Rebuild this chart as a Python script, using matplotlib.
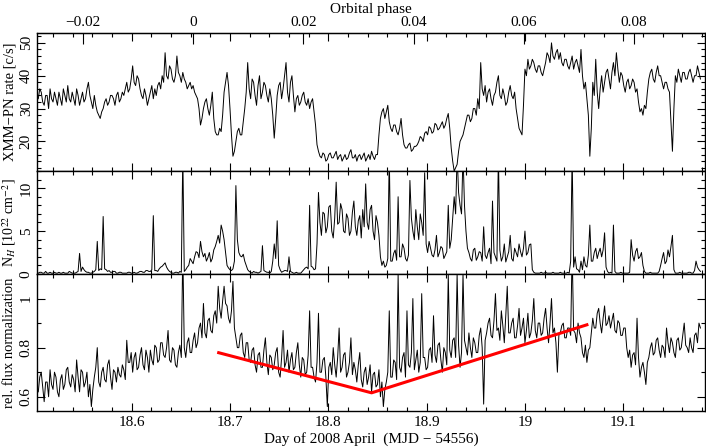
import numpy as np
import matplotlib
matplotlib.use("Agg")
import matplotlib.pyplot as plt
from matplotlib.ticker import MultipleLocator, FixedLocator, FuncFormatter

plt.rcParams['font.family'] = ['Liberation Serif', 'DejaVu Serif']
plt.rcParams['mathtext.fontset'] = 'stix'
plt.rcParams['font.size'] = 11

# time grid of the light curve (days of 2008 April)
t_start = 18.505
t_step = 0.0015
# orbital ephemeris used for the top axis
period = 5.6
phase_zero = 18.6627
phase_ticks = [-0.02, 0.0, 0.02, 0.04, 0.06, 0.08]

rate = [
    33, 36, 35, 32, 31, 34, 34, 30, 36, 33,
    32, 35, 33, 31, 35, 33, 31, 36, 34, 32,
    37, 33, 32, 35, 33, 31, 36, 34, 31, 33,
    35, 32, 33, 36, 38, 34, 32, 30, 34, 31,
    29, 28, 27, 29, 30, 32, 33, 31, 32, 34,
    34, 33, 31, 34, 35, 32, 33, 35, 34, 36,
    38, 35, 36, 39, 43, 38, 37, 40, 39, 36,
    34, 33, 36, 34, 31, 33, 35, 37, 33, 36,
    34, 37, 38, 36, 40, 38, 47, 40, 39, 43,
    42, 39, 38, 40, 46, 41, 40, 38, 41, 39,
    38, 36, 37, 38, 36, 37, 35, 34, 33, 30,
    25, 27, 30, 32, 33, 30, 28, 31, 35, 27,
    23, 22, 22, 24, 23, 28, 35, 38, 41, 37,
    30, 22, 15.5, 17, 20, 23, 24, 22, 22, 26,
    30, 35, 44, 36, 33, 39, 38, 34, 31, 37,
    40, 33, 35, 38, 37, 34, 32, 36, 33, 28,
    21, 27, 34, 37, 38, 33, 36, 40, 44, 35,
    32, 38, 40, 34, 29, 33, 34, 31, 32, 34,
    35, 32, 31, 33, 30, 32, 33, 29, 25, 19,
    17, 15.5, 15, 16.5, 16, 14, 14.5, 16, 16.5, 15,
    15, 16, 17, 14.5, 15.5, 16, 14, 15, 16, 14.5,
    15, 16.5, 17.5, 15, 15, 16, 14, 15.5, 16, 14.5,
    15.5, 16.5, 14, 15, 16, 14.5, 17, 15.5, 14.5, 16,
    16, 22, 27, 29, 30, 27, 29, 31, 26, 24,
    23, 25, 25, 23, 22, 24, 27, 22, 19, 18,
    18, 19, 19.5, 17, 17.5, 18.5, 18.5, 19, 20, 21.5,
    21, 20, 22.5, 23, 22, 24.5, 24, 22.5, 23, 25.5,
    25, 23.5, 24, 25, 26, 24, 25, 27, 28.5, 24,
    18, 14, 11, 12, 13, 17, 20, 21, 22, 24,
    26, 28, 28, 26, 27, 30, 30, 28, 33, 30,
    44, 36, 34, 37, 32, 35, 36, 33, 31, 34,
    35, 38, 40, 34, 33, 36, 34, 31, 32, 35,
    37, 34, 33, 35, 30, 27, 24, 23, 22, 31,
    42, 40, 45, 42, 43, 45, 44, 42, 41, 43,
    43, 41, 40, 42, 44, 47, 46, 44, 50, 46,
    45, 47, 48, 45, 47, 44, 43, 45, 45, 43,
    42, 44, 46, 42, 44, 45, 43, 41, 48, 40,
    36, 38, 33, 28, 15.5, 24, 38, 34, 45, 35,
    30, 36, 40, 35, 38, 41, 42, 39, 36, 41,
    44, 40, 47, 42, 38, 41, 40, 37, 35, 38,
    39, 36, 37, 39, 38, 35, 36, 32, 29, 30,
    28, 31, 30, 35, 39, 41, 42, 39, 38, 41,
    43, 40, 40, 38, 36, 38, 38, 36, 35, 26,
    17, 30, 40, 38, 42, 40, 38, 41, 41, 39,
    39, 41, 42, 40, 38, 40, 40, 43, 41, 39,
]

nh = [
    0.1, 0.2, 0.2, 0.1, 0.1, 0.3, 0.1, 0.1, 0.2, 0.1,
    0.1, 0.2, 0.1, 0.1, 0.2, 0.1, 0.1, 0.2, 0.1, 0.1,
    0.1, 0.3, 0.2, 0.1, 0.1, 0.1, 0.2, 0.3, 2.4, 0.3,
    0.8, 0.5, 0.3, 0.2, 0.2, 0.1, 0.1, 0.2, 0.3, 0.5,
    3.8, 0.4, 0.6, 0.5, 6.7, 0.6, 0.5, 0.3, 0.4, 0.2,
    0.2, 0.3, 0.3, 0.1, 0.1, 0.2, 0.2, 0.1, 0.1, 0.1,
    0.1, 0.2, 0.2, 0.1, 0.1, 0.2, 0.1, 0.1, 0.2, 0.3,
    0.3, 0.2, 0.2, 0.4, 0.4, 0.3, 0.3, 0.5, 6.8, 0.4,
    0.4, 0.3, 0.6, 0.8, 0.9, 1.1, 1.3, 0.8, 0.5, 0.3,
    0.2, 0.1, 0.1, 0.2, 0.2, 0.1, 0.3, 0.2, 14, 0.3,
    0.5, 0.8, 1.0, 1.8, 1.5, 1.2, 2.0, 2.6, 2.5, 1.9,
    3.8, 2.6, 2.0, 2.4, 1.5, 1.9, 2.5, 1.4, 1.8, 2.8,
    3.2, 3.8, 4.5, 3.6, 5.7, 5.0, 4.0, 2.5, 1.0, 0.7,
    0.5, 0.4, 0.6, 1.5, 10.3, 4.0, 2.5, 2.1, 2.0, 2.3,
    1.5, 1.0, 0.5, 0.3, 0.2, 0.1, 0.3, 0.2, 0.2, 0.1,
    0.2, 0.3, 3.3, 0.4, 0.3, 0.2, 0.2, 0.1, 0.3, 1.5,
    3.5, 1.8, 6.2, 1.0, 0.5, 0.2, 0.3, 0.4, 0.4, 0.3,
    2.0, 0.3, 0.2, 0.1, 0.1, 0.2, 0.1, 0.1, 0.1, 0.3,
    0.5, 0.7, 0.8, 0.6, 8.0, 0.9, 0.8, 0.5, 0.6, 3.5,
    9.5, 6.0, 4.5, 7.2, 7.0, 4.8, 5.5, 7.8, 8.0, 5.0,
    4.2, 6.5, 10.7, 5.8, 6.0, 8.2, 7.5, 5.0, 4.8, 7.0,
    6.5, 4.5, 5.0, 7.2, 8.5, 5.5, 4.5, 6.2, 6.8, 4.2,
    7.5, 5.5, 10.5, 6.0, 5.2, 7.5, 8.0, 5.0, 4.0, 6.8,
    6.0, 4.5, 2.0, 1.0, 1.5, 0.8, 1.0, 1.8, 14, 1.5,
    1.5, 2.4, 2.8, 1.6, 9.0, 2.0, 2.0, 3.5, 3.0, 1.8,
    1.5, 2.2, 10.9, 6.5, 5.0, 4.0, 7.5, 5.5, 4.0, 7.0,
    6.0, 4.5, 11.8, 3.5, 2.5, 3.8, 3.0, 2.2, 2.0, 2.8,
    4.5, 2.0, 2.5, 3.2, 3.0, 1.8, 2.2, 2.6, 8.0, 3.0,
    4.0, 6.5, 9.0, 7.0, 14, 9.5, 8.0, 7.0, 14, 8.0,
    5.0, 3.0, 2.5, 1.8, 1.5, 2.8, 3.0, 1.6, 2.0, 2.6,
    2.5, 1.5, 5.5, 2.2, 1.8, 2.5, 3.0, 1.2, 8.5, 2.5,
    2.0, 1.5, 14, 2.8, 1.5, 2.0, 3.5, 1.4, 2.0, 2.6,
    4.5, 1.8, 1.5, 3.0, 2.5, 2.0, 3.5, 2.6, 2.0, 3.0,
    5.0, 2.2, 2.5, 3.4, 3.5, 0.5, 0.2, 0.1, 0.1, 0.1,
    0.1, 0.2, 0.1, 0.1, 0.2, 0.1, 0.1, 0.1, 0.1, 0.2,
    0.1, 0.1, 0.1, 0.1, 0.2, 0.1, 0.1, 0.1, 0.1, 0.2,
    0.1, 1.5, 14, 0.8, 2.0, 0.6, 0.5, 0.2, 1.5, 0.5,
    2.0, 1.0, 0.8, 2.2, 5.7, 1.5, 1.5, 2.5, 3.0, 1.8,
    2.5, 3.0, 2.0, 2.8, 4.8, 0.8, 0.3, 0.1, 0.2, 0.1,
    5.7, 0.3, 0.1, 0.1, 0.1, 0.2, 0.1, 0.1, 0.1, 0.1,
    0.1, 0.2, 4.0, 2.2, 1.5, 2.6, 3.0, 1.8, 2.0, 2.5,
    1.0, 0.3, 0.1, 0.1, 0.1, 0.2, 0.1, 0.1, 0.1, 0.1,
    0.1, 0.3, 1.0, 1.8, 2.5, 1.2, 1.5, 2.8, 2.0, 3.2,
    4.5, 0.5, 0.1, 0.1, 0.1, 0.2, 0.1, 0.1, 0.1, 0.1,
    0.1, 0.2, 0.2, 0.1, 0.1, 0.4, 1.5, 0.8, 0.5, 0.3,
]

norm = [
    0.62, 0.68, 0.70, 0.64, 0.58, 0.66, 0.66, 0.60, 0.71, 0.65,
    0.63, 0.70, 0.68, 0.62, 0.60, 0.67, 0.69, 0.63, 0.65, 0.71,
    0.72, 0.66, 0.64, 0.69, 0.67, 0.62, 0.75, 0.68, 0.62, 0.71,
    0.70, 0.64, 0.66, 0.70, 0.60, 0.65, 0.56, 0.63, 0.68, 0.72,
    0.80, 0.66, 0.64, 0.70, 0.72, 0.67, 0.66, 0.73, 0.75, 0.68,
    0.63, 0.71, 0.70, 0.66, 0.72, 0.69, 0.68, 0.73, 0.71, 0.67,
    0.83, 0.74, 0.74, 0.78, 0.70, 0.76, 0.78, 0.71, 0.72, 0.77,
    0.80, 0.73, 0.71, 0.79, 0.76, 0.70, 0.79, 0.75, 0.73, 0.81,
    0.80, 0.74, 0.75, 0.82, 0.82, 0.77, 0.76, 0.80, 0.87, 0.75,
    0.74, 0.80, 0.79, 0.73, 0.72, 0.78, 0.81, 0.76, 1.20, 0.80,
    0.76, 0.82, 0.84, 0.78, 0.78, 0.83, 0.86, 0.80, 0.82, 0.88,
    0.90, 0.84, 0.98, 0.86, 0.84, 0.91, 0.92, 0.87, 0.86, 0.93,
    0.95, 0.90, 1.05, 0.96, 0.92, 0.99, 1.05, 0.98, 0.97, 0.92,
    0.90, 0.95, 1.07, 0.88, 0.84, 0.80, 0.80, 0.85, 0.86, 0.78,
    0.76, 0.82, 0.82, 0.75, 0.74, 0.79, 0.80, 0.73, 0.70, 0.77,
    0.78, 0.72, 0.72, 0.79, 0.84, 0.74, 0.69, 0.77, 0.76, 0.71,
    0.73, 0.78, 0.80, 0.70, 0.68, 0.76, 0.87, 0.72, 0.74, 0.79,
    0.70, 0.75, 0.78, 0.71, 0.72, 0.78, 0.82, 0.73, 0.68, 0.76,
    0.75, 0.69, 0.70, 0.77, 0.95, 0.72, 0.72, 0.68, 0.66, 0.74,
    0.94, 0.70, 0.70, 0.75, 0.76, 0.68, 0.56, 0.72, 0.74, 0.69,
    0.80, 0.73, 0.68, 0.76, 0.88, 0.70, 0.72, 0.77, 0.78, 0.68,
    0.70, 0.74, 0.84, 0.69, 0.74, 0.71, 0.66, 0.73, 0.78, 0.67,
    0.64, 0.70, 0.72, 0.65, 0.68, 0.73, 0.62, 0.69, 0.70, 0.64,
    0.65, 0.71, 0.60, 0.66, 0.56, 0.63, 0.66, 0.70, 0.95, 0.68,
    0.68, 0.75, 0.74, 0.67, 1.10, 0.72, 0.70, 0.76, 0.78, 0.68,
    0.95, 0.73, 0.72, 0.78, 1.00, 0.71, 0.75, 0.79, 0.70, 0.74,
    1.02, 0.76, 0.76, 0.71, 0.72, 0.79, 0.80, 0.74, 0.93, 0.77,
    0.74, 0.81, 0.82, 0.75, 0.70, 0.80, 0.78, 0.73, 1.10, 0.79,
    0.76, 0.83, 0.84, 0.76, 1.10, 0.81, 0.72, 0.78, 1.10, 0.83,
    0.80, 0.77, 0.86, 0.80, 0.76, 0.84, 0.82, 0.78, 0.78, 0.85,
    0.88, 0.80, 0.57, 0.83, 0.86, 0.90, 0.92, 0.85, 0.84, 0.91,
    1.02, 0.87, 0.88, 0.83, 0.95, 0.89, 0.82, 0.93, 1.05, 0.86,
    0.86, 0.90, 0.92, 0.84, 0.84, 0.89, 0.96, 0.85, 0.88, 0.92,
    0.82, 0.87, 0.94, 0.84, 0.86, 0.91, 1.00, 0.87, 0.84, 0.90,
    0.90, 0.85, 0.86, 0.92, 0.96, 0.88, 0.82, 0.90, 1.00, 0.86,
    0.88, 0.82, 0.70, 0.85, 0.86, 0.89, 0.90, 0.84, 0.84, 0.88,
    0.88, 0.85, 1.20, 0.87, 0.86, 0.82, 0.90, 0.86, 0.84, 0.78,
    0.76, 0.81, 0.74, 0.79, 0.80, 0.86, 0.92, 0.88, 0.88, 0.94,
    0.96, 0.90, 0.86, 0.92, 0.97, 0.89, 0.90, 0.93, 0.88, 0.91,
    0.94, 0.87, 0.86, 0.91, 0.90, 0.85, 0.85, 0.88, 0.88, 0.80,
    0.76, 0.79, 0.72, 0.77, 0.78, 0.73, 0.92, 0.76, 0.68, 0.72,
    0.74, 0.70, 0.65, 0.74, 0.76, 0.80, 0.82, 0.77, 0.78, 0.83,
    0.84, 0.79, 0.76, 0.81, 0.80, 0.76, 0.88, 0.82, 0.78, 0.84,
    0.82, 0.78, 0.76, 0.83, 0.84, 0.79, 0.80, 0.85, 0.90, 0.81,
    0.80, 0.78, 0.84, 0.80, 0.78, 0.85, 0.86, 0.82, 0.90, 0.88,
]

# broken-line trend drawn in red over the normalization
fit_days = [18.687, 18.844, 19.0645]
fit_norm = [0.781, 0.616, 0.895]


def days_for(values):
    return t_start + t_step * np.arange(len(values))


def day_to_phase(d):
    return (d - phase_zero) / period


def phase_to_day(p):
    return p * period + phase_zero


def fmt(v, pos):
    v = round(v, 6)
    if abs(v) < 1e-9:
        v = 0.0
    return ('%g' % v).replace('-', '\u2212')


def style(ax, ymaj, ymin):
    ax.xaxis.set_major_locator(MultipleLocator(0.1))
    ax.xaxis.set_minor_locator(MultipleLocator(0.02))
    ax.yaxis.set_major_locator(MultipleLocator(ymaj))
    ax.yaxis.set_minor_locator(MultipleLocator(ymin))
    ax.tick_params(which='both', direction='in', top=True, right=True, width=0.8)
    ax.tick_params(which='major', length=6)
    ax.tick_params(which='minor', length=3)
    ax.tick_params(axis='y', labelrotation=90, pad=3)
    for lab in ax.get_yticklabels():
        lab.set_va('center')
    ax.xaxis.set_major_formatter(FuncFormatter(fmt))
    ax.yaxis.set_major_formatter(FuncFormatter(fmt))
    for s in ax.spines.values():
        s.set_linewidth(1.0)
    ax.yaxis.set_label_coords(-0.031, 0.5)


fig = plt.figure(figsize=(7.06, 4.48), dpi=100)
left, width = 0.0524, 0.946
ax1 = fig.add_axes([left, 0.6183, width, 0.3080])
ax2 = fig.add_axes([left, 0.3884, width, 0.2299], sharex=ax1)
ax3 = fig.add_axes([left, 0.0826, width, 0.3058], sharex=ax1)

ax1.plot(days_for(rate), rate, color='black', lw=0.7)
ax2.plot(days_for(nh), nh, color='black', lw=0.7)
ax3.plot(days_for(norm), norm, color='black', lw=0.7)
ax3.plot(fit_days, fit_norm, color='red', lw=2.2, solid_capstyle='butt')

ax1.set_xlim(18.5037, 19.183)
ax1.set_ylim(11, 53)
ax2.set_ylim(0, 12)
ax3.set_ylim(0.542, 1.1)

style(ax1, 10, 2)
style(ax2, 5, 1)
style(ax3, 0.2, 0.1)
ax1.tick_params(labelbottom=False)
ax2.tick_params(labelbottom=False)

ax1.set_ylabel('XMM\u2212PN rate [c/s]', fontsize=10.5)
ax2.set_ylabel(r'N$_H$ [10$^{22}$ cm$^{-2}$]', fontsize=10)
ax2.yaxis.set_label_coords(-0.028, 0.5)
ax3.set_ylabel('rel. flux normalization', fontsize=10.5)
ax3.set_xlabel('Day of 2008 April  (MJD \u2212 54556)', labelpad=2)

sec = ax1.secondary_xaxis('top', functions=(day_to_phase, phase_to_day))
sec.xaxis.set_major_locator(FixedLocator(phase_ticks))
sec.xaxis.set_minor_locator(plt.NullLocator())
sec.xaxis.set_major_formatter(FuncFormatter(fmt))
sec.tick_params(direction='in', length=8, width=0.8, pad=3)
sec.set_xlabel('Orbital phase', labelpad=2)

fig.savefig('out.png', dpi=100)
